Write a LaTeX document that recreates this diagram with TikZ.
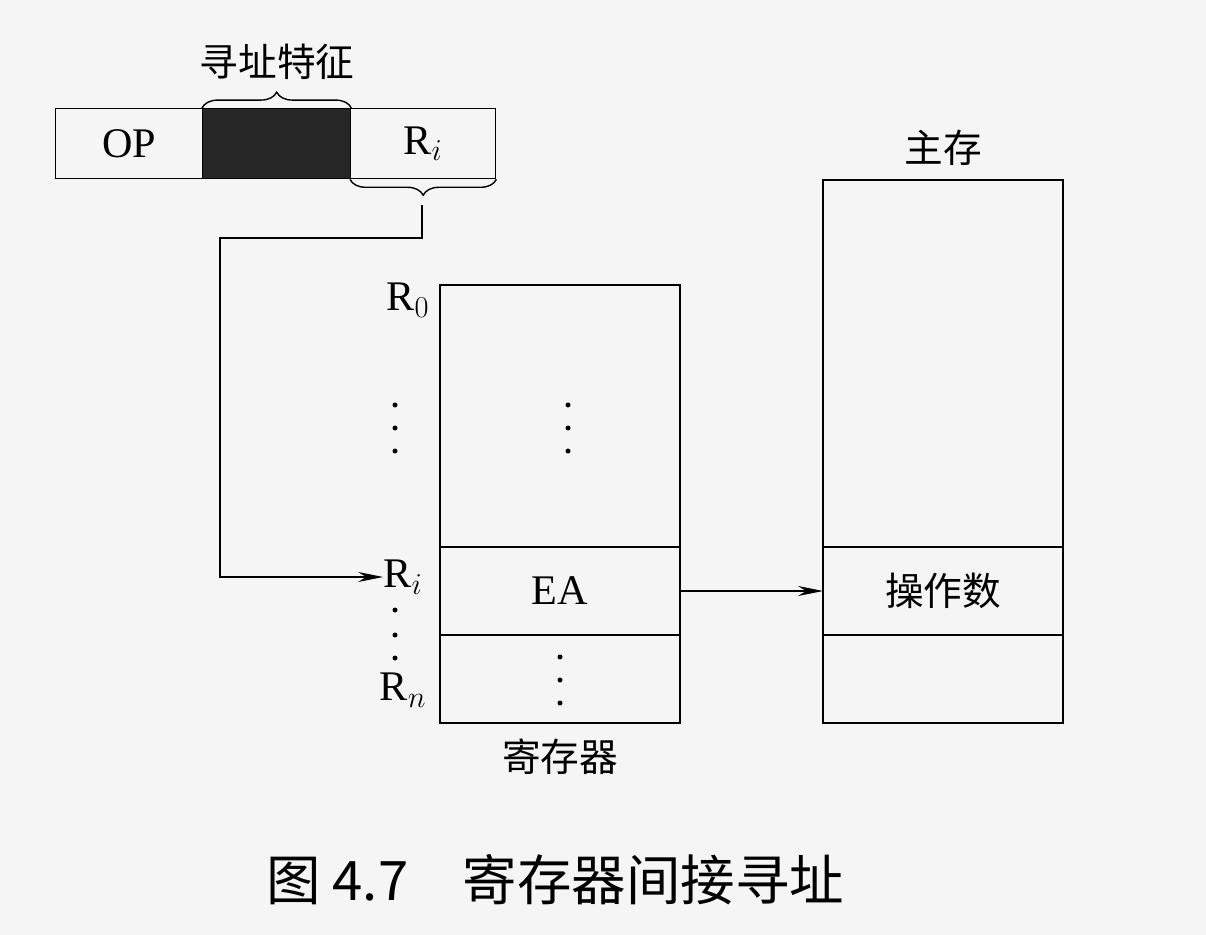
\documentclass[tikz,border=0pt]{standalone}
\usepackage{fontspec}
\setmainfont{Liberation Serif}
\newfontfamily\cjk{Noto Sans CJK SC}
\usetikzlibrary{decorations.pathreplacing,arrows.meta}
\begin{document}
\begin{tikzpicture}[x=0.02cm, y=-0.02cm, font=\fontsize{24}{28}\selectfont,
  cell/.style = {draw, thick, minimum height=1.4cm, inner sep=0pt},
  lbl/.style = {inner sep=0pt},
  zh/.style = {inner sep=0pt, font=\cjk\fontsize{22}{26}\selectfont},
  link/.style = {thick, -{Stealth[length=5mm, width=2mm]}}]
\fill[gray!8] (0,0) rectangle (1206,935);
\useasboundingbox (0,0) rectangle (1206,935);
% instruction word
\node[cell, minimum width=2.94cm, anchor=north west] (op) at (55,108) {OP};
\node[cell, minimum width=2.96cm, fill=black!85, anchor=north west] (mode) at (202,108) {};
\node[cell, minimum width=2.9cm, anchor=north west] (ri) at (350,108) {R$_i$};
\draw[thick, decorate, decoration={brace, amplitude=9pt}] (mode.north west) -- (mode.north east);
\node[zh] (modelbl) at (277,62) {寻址特征};
\draw[thick, decorate, decoration={brace, amplitude=9pt, mirror}] (ri.south west) -- coordinate[pos=0.5] (ribr) (ri.south east);
\coordinate (tip) at (422,205);
% registers
\draw[thick] (440,285) rectangle (680,723);
\draw[thick] (440,547) -- (680,547) (440,635) -- (680,635);
\node[lbl] (ea) at (560,591) {EA};
\node[lbl] (r0) at (408,300) {R$_0$};
\node[lbl] (rri) at (403,577) {R$_i$};
\node[lbl] (rn) at (403,690) {R$_n$};
\foreach \y in {405,428,451} {\fill (395,\y) circle (2.5) (568,\y) circle (2.5);}
\foreach \y in {610,635,658} {\fill (395,\y) circle (2.5);}
\foreach \y in {657,680,703} {\fill (560,\y) circle (2.5);}
\node[zh] (reglbl) at (560,757) {寄存器};
% main memory
\draw[thick] (823,180) rectangle (1063,723);
\draw[thick] (823,547) -- (1063,547) (823,635) -- (1063,635);
\node[zh] (opnd) at (943,591) {操作数};
\node[zh] (memlbl) at (943,148) {主存};
% connectors
\draw[link] (tip) -- (422,238) -- (220,238) -- (220,577) -- (rri.west);
\draw[link] (680,591) -- (823,591);
% caption
\node[lbl, font=\cjk\fontsize{31}{35}\selectfont] (cap) at (555,880) {图 4.7\quad 寄存器间接寻址};
\end{tikzpicture}
\end{document}
